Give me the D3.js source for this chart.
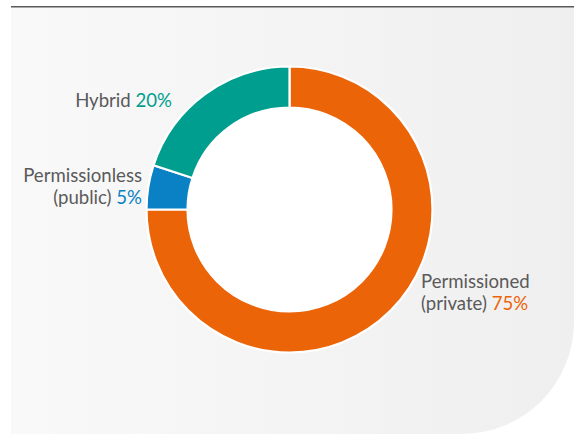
<!DOCTYPE html>
<html><head><meta charset="utf-8">
<script src="https://cdn.jsdelivr.net/npm/d3@7/dist/d3.min.js"></script>
<style>body{margin:0;background:#fff;}svg{display:block;}</style>
</head><body>
<svg id="c" width="574" height="434"></svg>
<script>
const categories = ["Permissioned (private)", "Permissionless (public)", "Hybrid"];
const values = [75, 5, 20];
const colors = ["#ec6408", "#0a81c4", "#009e8e"];
const labelLines = [["Permissioned", "(private)"], ["Permissionless", "(public)"], ["Hybrid"]];

const svg = d3.select("#c");
const W = 574, H = 434;
const defs = svg.append("defs");
const g = defs.append("linearGradient").attr("id", "bg").attr("x1", "0").attr("x2", "1").attr("y1", "0").attr("y2", "0");
g.append("stop").attr("offset", "0").attr("stop-color", "#f9f9f9");
g.append("stop").attr("offset", "1").attr("stop-color", "#efefef");

const px = 11, py = 7, r = 112;
svg.append("path")
  .attr("d", `M${px},${py} H${W} V${H - r} A${r},${r} 0 0 1 ${W - r},${H} H${px} Z`)
  .attr("fill", "url(#bg)");
svg.append("line").attr("x1", px).attr("x2", W).attr("y1", 6.8).attr("y2", 6.8)
  .attr("stroke", "#5a5a5a").attr("stroke-width", 1.6);

const cx = 289.5, cy = 209.5, R = 143, r0 = 102;
const pie = d3.pie().sort(null).value(d => d)(values);
const arc = d3.arc().innerRadius(r0).outerRadius(R);
const chart = svg.append("g").attr("transform", `translate(${cx},${cy})`);
chart.append("circle").attr("r", r0).attr("fill", "#fff");
chart.selectAll("path.s").data(pie).join("path")
  .attr("class", "s")
  .attr("d", arc)
  .attr("fill", (d, i) => colors[i])
  .attr("stroke", "#fff").attr("stroke-width", 2.2);

const font = "Lato, 'Open Sans', sans-serif";
const fs = 18.6;
const labelPos = [
  {x: 421, y: 288, anchor: "start"},
  {x: 142, y: 182, anchor: "end"},
  {x: 172, y: 107, anchor: "end"}
];
labelLines.forEach((lines, i) => {
  const p = labelPos[i];
  const t = svg.append("text").attr("font-family", font).attr("font-size", fs)
    .attr("fill", "#5a5a5a").attr("text-anchor", p.anchor);
  lines.forEach((ln, j) => {
    t.append("tspan").attr("x", p.x).attr("y", p.y + j * 21.5).text(ln);
    if (j === lines.length - 1) {
      t.append("tspan").text(" ");
      t.append("tspan").attr("fill", colors[i]).text(values[i] + "%");
    }
  });
});
</script>
</body></html>
